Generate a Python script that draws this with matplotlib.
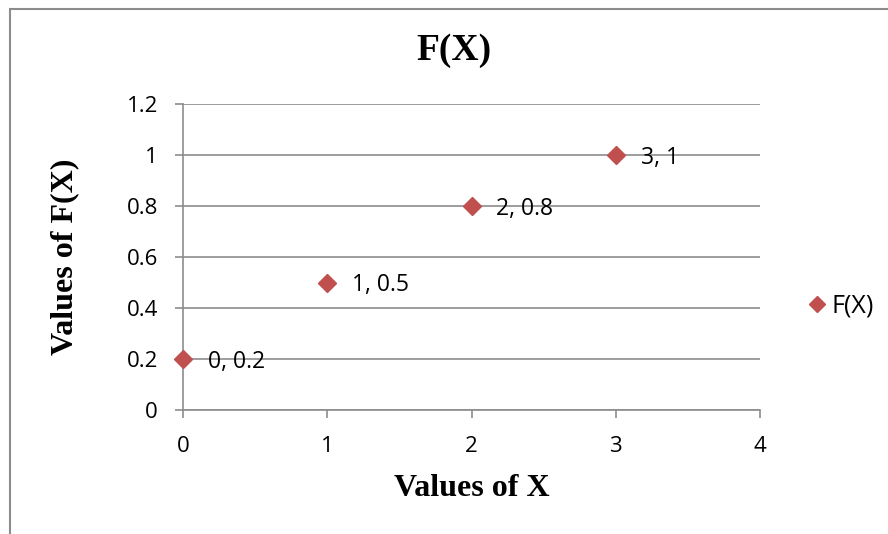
import matplotlib.pyplot as plt
from matplotlib.patches import Rectangle

x_vals = [0, 1, 2, 3]
fx_vals = [0.2, 0.5, 0.8, 1.0]
point_labels = ['0, 0.2', '1, 0.5', '2, 0.8', '3, 1']
x_ticks = [0, 1, 2, 3, 4]
y_ticks = [0, 0.2, 0.4, 0.6, 0.8, 1.0, 1.2]
y_tick_labels = ['0', '0.2', '0.4', '0.6', '0.8', '1', '1.2']

W, H = 888, 534
fig = plt.figure(figsize=(W / 100, H / 100), dpi=100)
fig.patches.append(Rectangle((10 / W, -0.1), 1.2, 1.1 - 9 / H, transform=fig.transFigure,
                             fill=False, edgecolor='#8c8c8c', linewidth=1.5))

ax = fig.add_axes([183 / W, 1 - 410 / H, (760 - 183) / W, (410 - 104) / H])
red = '#C0504D'
sans = 'Open Sans'
serif = 'Liberation Serif'

ax.plot(x_vals, fx_vals, linestyle='none', marker='D', markersize=9.5,
        color=red, label='F(X)', clip_on=False, zorder=3)
for x, y, t in zip(x_vals, fx_vals, point_labels):
    ax.annotate(t, (x, y), xytext=(18, -2), textcoords='offset points',
                va='center', ha='left', fontsize=16.5, family=sans)

ax.set_xlim(0, 4)
ax.set_ylim(0, 1.2)
ax.set_xticks(x_ticks)
ax.set_yticks(y_ticks)
ax.set_yticklabels(y_tick_labels)
ax.grid(axis='y', color='#8c8c8c', linewidth=1.2)
ax.set_axisbelow(True)
for s in ['top', 'right']:
    ax.spines[s].set_visible(False)
for s in ['left', 'bottom']:
    ax.spines[s].set_color('#8c8c8c')
    ax.spines[s].set_linewidth(1.2)
ax.tick_params(direction='out', length=6, width=1.2, color='#8c8c8c', labelsize=16)
ax.tick_params(axis='y', pad=12)
ax.tick_params(axis='x', pad=13)
for lab in ax.get_xticklabels() + ax.get_yticklabels():
    lab.set_family(sans)

fig.text(454 / W, 1 - 51 / H, 'F(X)', fontsize=27, fontweight='bold', family=serif,
         ha='center', va='center')
fig.text(472 / W, 1 - 488 / H, 'Values of X', fontsize=23, fontweight='bold', family=serif,
         ha='center', va='center')
fig.text(65 / W, 1 - 257 / H, 'Values of F(X)', fontsize=23, fontweight='bold', family=serif,
         ha='center', va='center', rotation=90)

ax.legend(loc='center left', bbox_to_anchor=(804 / W, 1 - 306 / H), bbox_transform=fig.transFigure,
          frameon=False, prop={'family': sans, 'size': 18}, handletextpad=0.1,
          markerscale=0.9, handlelength=1.0, borderaxespad=0, borderpad=0)

fig.savefig('out.png', dpi=100)
